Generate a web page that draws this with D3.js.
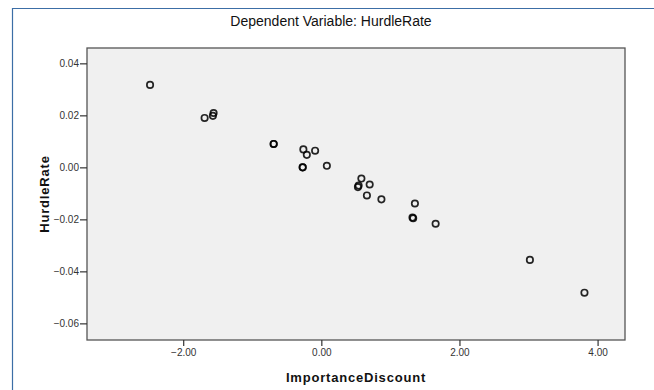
<!DOCTYPE html>
<html>
<head>
<meta charset="utf-8">
<script src="https://cdn.jsdelivr.net/npm/d3@7"></script>
<style>
  body { margin: 0; background: #fff; }
  text { font-family: "Liberation Sans", Arial, sans-serif; }
</style>
</head>
<body>
<svg id="chart"></svg>
<script>
const importanceDiscount = [
  -2.48, -1.69, -1.56, -1.57, -0.69, -0.69, -0.26, -0.21, -0.09, -0.27, -0.27,
  0.08, 0.58, 0.54, 0.53, 0.70, 0.66, 0.87, 1.355, 1.33, 1.32, 1.655, 3.02, 3.81
];
const hurdleRate = [
  0.0317, 0.0190, 0.0209, 0.0198, 0.0090, 0.0090, 0.0069, 0.0048, 0.0064, 0.0000, 0.0000,
  0.0006, -0.0043, -0.0070, -0.0076, -0.0066, -0.0108, -0.0123, -0.0139, -0.0196, -0.0193, -0.0217, -0.0356, -0.0482
];
const xTicks = [-2, 0, 2, 4];
const yTicks = [0.04, 0.02, 0.00, -0.02, -0.04, -0.06];
const title = 'Dependent Variable: HurdleRate';
const xLabel = 'ImportanceDiscount';
const yLabel = 'HurdleRate';

const WIDTH = 654;
const HEIGHT = 390;
const margin = {top: 48, right: 29, bottom: 50, left: 87},
    width = WIDTH - margin.left - margin.right,
    height = HEIGHT - margin.top - margin.bottom;

const root = d3.select('#chart')
    .attr('width', WIDTH)
    .attr('height', HEIGHT);

// outer frame
root.append('path')
    .attr('d', `M12.5,${HEIGHT} V8.5 H${WIDTH}`)
    .attr('fill', 'none')
    .attr('stroke', '#3c6ea6')
    .attr('stroke-width', 1.2);

root.append('text')
    .attr('x', 331)
    .attr('y', 26)
    .attr('text-anchor', 'middle')
    .style('font-size', '14px')
    .attr('fill', '#111')
    .text(title);

const svg = root.append('g')
    .attr('transform', `translate(${margin.left},${margin.top})`);

const x = d3.scaleLinear().domain([-3.393, 4.397]).range([0, width]);
const y = d3.scaleLinear().domain([-0.0664, 0.0459]).range([height, 0]);

svg.append('rect')
    .attr('width', width)
    .attr('height', height)
    .attr('fill', '#f0f0f0')
    .attr('stroke', '#555')
    .attr('stroke-width', 1.3);

const xAxis = svg.append('g')
    .attr('transform', `translate(0,${height})`)
    .call(d3.axisBottom(x).tickValues(xTicks).tickFormat(d3.format('.2f')).tickSizeOuter(0).tickSize(6).tickPadding(3));
const yAxis = svg.append('g')
    .call(d3.axisLeft(y).tickValues(yTicks).tickFormat(d3.format('.2f')).tickSizeOuter(0).tickSize(7).tickPadding(1));

[xAxis, yAxis].forEach(a => {
  a.select('.domain').remove();
  a.selectAll('line').attr('stroke', '#333').attr('stroke-width', 1.2);
  a.selectAll('text')
      .attr('fill', '#333')
      .style('font-size', '10px')
      .style('font-family', '"Liberation Sans", Arial, sans-serif');
});

svg.selectAll('circle')
    .data(importanceDiscount.map((d, i) => [d, hurdleRate[i]]))
    .join('circle')
    .attr('cx', d => x(d[0]))
    .attr('cy', d => y(d[1]))
    .attr('r', 3.2)
    .attr('fill', 'none')
    .attr('stroke', '#000')
    .attr('stroke-opacity', 0.85)
    .attr('stroke-width', 1.7);

root.append('text')
    .attr('x', margin.left + width / 2)
    .attr('y', 382)
    .attr('text-anchor', 'middle')
    .style('font-size', '13px')
    .style('font-weight', 'bold')
    .style('letter-spacing', '0.8px')
    .attr('fill', '#111')
    .text(xLabel);

root.append('text')
    .attr('transform', `translate(49,${margin.top + height / 2}) rotate(-90)`)
    .attr('text-anchor', 'middle')
    .style('font-size', '13px')
    .style('font-weight', 'bold')
    .style('letter-spacing', '0.8px')
    .attr('fill', '#111')
    .text(yLabel);
</script>
</body>
</html>
